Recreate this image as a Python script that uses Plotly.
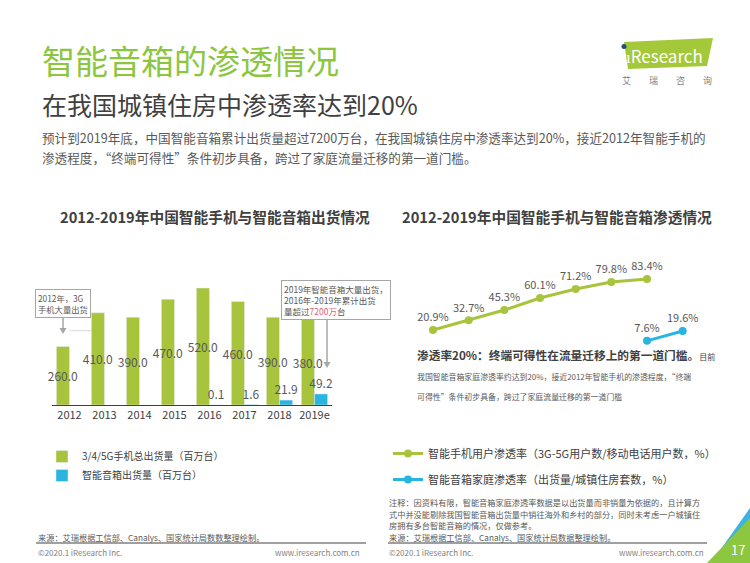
import plotly.graph_objects as go

# ---------------- data ----------------
years = ["2012", "2013", "2014", "2015", "2016", "2017", "2018", "2019e"]
phone_shipments = [260.0, 410.0, 390.0, 470.0, 520.0, 460.0, 390.0, 380.0]
speaker_shipments = [None, None, None, None, 0.1, 1.6, 21.9, 49.2]

phone_pen_years = ["2012", "2013", "2014", "2015", "2016", "2017", "2018"]
phone_penetration = [20.9, 32.7, 45.3, 60.1, 71.2, 79.8, 83.4]
speaker_pen_years = ["2018", "2019e"]
speaker_penetration = [7.6, 19.6]
threshold = 20

# ---------------- style ----------------
W, H = 750, 563
GREEN = "#A8C43C"
TITLE_GREEN = "#8CC63F"
BLUE = "#2AB4E0"
DARK = "#404040"
GRAY = "#595959"
LIGHT = "#7F7F7F"
ARROW = "#A6A6A6"
FONT = "Noto Sans CJK SC"


def X(px):
    return px / W


def Y(py):
    return 1 - py / H


fig = go.Figure()

fig.add_trace(go.Bar(
    x=years, y=phone_shipments, name="3/4/5G手机总出货量（百万台）",
    marker_color=GREEN, text=[f"{v:.1f}" for v in phone_shipments],
    textposition="inside", insidetextanchor="middle", textangle=0,
    constraintext="none", insidetextfont=dict(size=12, color=GRAY, family=FONT),
    cliponaxis=False, xaxis="x", yaxis="y", legend="legend", hoverinfo="skip",
))
fig.add_trace(go.Bar(
    x=years, y=speaker_shipments, name="智能音箱出货量（百万台）",
    marker_color=BLUE,
    text=["" if v is None else f"{v:.1f}" for v in speaker_shipments],
    textposition="outside", textangle=0, constraintext="none",
    outsidetextfont=dict(size=12, color=GRAY, family=FONT), cliponaxis=False,
    xaxis="x", yaxis="y", legend="legend", hoverinfo="skip",
))

fig.add_trace(go.Scatter(
    x=phone_pen_years, y=phone_penetration, mode="lines+markers+text",
    name="智能手机用户渗透率（3G-5G用户数/移动电话用户数，%）",
    line=dict(color=GREEN, width=3), marker=dict(color=GREEN, size=8),
    text=[f"{v}%" for v in phone_penetration], textposition="top center",
    textfont=dict(size=11, color=GRAY, family=FONT), cliponaxis=False,
    xaxis="x3", yaxis="y2", legend="legend2", legendgroup="a", hoverinfo="skip",
))
fig.add_trace(go.Scatter(
    x=speaker_pen_years, y=speaker_penetration, mode="lines+markers+text",
    name="智能音箱家庭渗透率（出货量/城镇住房套数，%）",
    line=dict(color=BLUE, width=3), marker=dict(color=BLUE, size=8),
    text=[f"{v}%" for v in speaker_penetration], textposition="top center",
    textfont=dict(size=11, color=GRAY, family=FONT), cliponaxis=False,
    xaxis="x3", yaxis="y2", legend="legend2", legendgroup="b", hoverinfo="skip",
))

annotations = []


def txt(text, x, y, size, color=GRAY, xanchor="left", **kw):
    annotations.append(dict(text=text, x=X(x), y=Y(y), xref="paper", yref="paper",
                            xanchor=xanchor, yanchor="middle", showarrow=False,
                            font=dict(size=size, color=color, family=FONT), **kw))


# header
txt("智能音箱的渗透情况", 40, 60, 33, TITLE_GREEN)
txt("在我国城镇住房中渗透率达到20%", 40, 104, 25, DARK)
txt("预计到2019年底，中国智能音箱累计出货量超过7200万台，在我国城镇住房中渗透率达到20%，接近2012年智能手机的", 40, 137, 12.6, GRAY)
txt("渗透程度，“终端可得性”条件初步具备，跨过了家庭流量迁移的第一道门槛。", 40, 158, 12.6, GRAY)

# logo
txt("ıResearch", 664, 55, 17, "white", xanchor="center")
txt("艾　　瑞　　咨　　询", 667, 80, 9, LIGHT, xanchor="center")

# chart titles
txt("<b>2012-2019年中国智能手机与智能音箱出货情况</b>", 215, 216, 14.7, DARK, xanchor="center")
txt("<b>2012-2019年中国智能手机与智能音箱渗透情况</b>", 557, 216, 14.7, DARK, xanchor="center")

# callout boxes
annotations.append(dict(text="2012年，3G<br>手机大量出货", x=X(35), y=Y(303), xref="paper", yref="paper",
                        xanchor="left", yanchor="middle", align="left", showarrow=False,
                        bordercolor=ARROW, borderwidth=1, borderpad=2, bgcolor="white",
                        font=dict(size=8.3, color=GRAY, family=FONT)))
annotations.append(dict(text="2019年智能音箱大量出货，<br>2016年-2019年累计出货<br>量超过<span style='color:#E0607A'>7200万</span>台",
                        x=X(281), y=Y(300), xref="paper", yref="paper",
                        xanchor="left", yanchor="middle", align="left", showarrow=False,
                        bordercolor=ARROW, borderwidth=1, borderpad=2, bgcolor="white",
                        font=dict(size=8.5, color=GRAY, family=FONT)))

# right chart commentary
txt("<b>渗透率20%：终端可得性在流量迁移上的第一道门槛。</b><span style='font-size:8px'>目前</span>", 415, 355, 11.7, DARK)
txt("我国智能音箱家庭渗透率约达到20%，接近2012年智能手机的渗透程度，“终端", 415, 376, 7.9, GRAY)
txt("可得性”条件初步具备，跨过了家庭流量迁移的第一道门槛", 415, 396, 7.9, GRAY)

# notes & footers
txt("注释：因资料有限，智能音箱家庭渗透率数据是以出货量而非销量为依据的，且计算方", 387, 502, 8.2, GRAY)
txt("式中并没能剔除我国智能音箱出货量中销往海外和乡村的部分，同时未考虑一户城镇住", 387, 513.5, 8.2, GRAY)
txt("房拥有多台智能音箱的情况，仅做参考。", 387, 525, 8.2, GRAY)
txt("来源：艾瑞根据工信部、Canalys、国家统计局数据整理绘制。", 387, 536.5, 8.2, GRAY)
txt("来源：艾瑞根据工信部、Canalys、国家统计局数数整理绘制。", 36, 536.5, 8.2, GRAY)
txt("©2020.1 iResearch Inc.", 36, 552, 8, LIGHT)
txt("www.iresearch.com.cn", 362, 552, 8, LIGHT, xanchor="right")
txt("©2020.1 iResearch Inc.", 387, 552, 8, LIGHT)
txt("www.iresearch.com.cn", 706, 552, 8, LIGHT, xanchor="right")
txt("17", 738, 549, 13, "white", xanchor="center")


def arrow(xp, y_top, y_tip):
    return [
        dict(type="line", xref="paper", yref="paper", x0=X(xp), x1=X(xp), y0=Y(y_top), y1=Y(y_tip - 5),
             line=dict(color=ARROW, width=1.5)),
        dict(type="path", xref="paper", yref="paper", fillcolor=ARROW, line_width=0,
             path=f"M {X(xp - 3.5)} {Y(y_tip - 6)} L {X(xp + 3.5)} {Y(y_tip - 6)} L {X(xp)} {Y(y_tip)} Z"),
    ]


shapes = [
    # logo background
    dict(type="path", path=f"M {X(624)} {Y(42)} L {X(713)} {Y(38)} L {X(707)} {Y(66)} L {X(628)} {Y(69)} Z",
         xref="paper", yref="paper", fillcolor="#A3C83A", line_width=0, layer="below"),
    dict(type="circle", xref="paper", yref="paper", x0=X(621.5), x1=X(626.5), y0=Y(44), y1=Y(49),
         fillcolor="#1F4E79", line_width=0),
    # footer rules
    dict(type="line", xref="paper", yref="paper", x0=X(36), x1=X(366), y0=Y(543), y1=Y(543),
         line=dict(color=DARK, width=1)),
    dict(type="line", xref="paper", yref="paper", x0=X(388), x1=X(707), y0=Y(543), y1=Y(543),
         line=dict(color=DARK, width=1)),
    # corner decoration
    dict(type="path", xref="paper", yref="paper", layer="below",
         path=f"M {X(716)} {Y(556)} L {X(750)} {Y(508)} L {X(750)} {Y(563)} L {X(716)} {Y(563)} Z",
         fillcolor="#3BB4E5", line_width=0),
    dict(type="path", xref="paper", yref="paper", layer="below",
         path=f"M {X(707)} {Y(563)} L {X(750)} {Y(518)} L {X(750)} {Y(563)} Z",
         fillcolor="#8DC63F", line_width=0),
    # 20% threshold line
    dict(type="line", xref="x2 domain", yref="y2", x0=0, x1=1, y0=threshold, y1=threshold,
         line=dict(color="#D9D9D9", width=1), layer="below"),
] + arrow(63, 316, 334) + arrow(327, 319, 368)

fig.update_layout(
    width=W, height=H, margin=dict(l=0, r=0, t=0, b=0),
    paper_bgcolor="white", plot_bgcolor="white",
    font=dict(family=FONT, color=GRAY),
    barmode="group", bargap=0.25, bargroupgap=0,
    xaxis=dict(domain=[X(52), X(332)], anchor="y", type="category", showline=True,
               linecolor=DARK, linewidth=1, ticks="", showgrid=False, zeroline=False,
               tickfont=dict(size=11, color=DARK, family=FONT)),
    yaxis=dict(domain=[Y(405), Y(279)], anchor="x", range=[0, 560], visible=False),
    xaxis2=dict(domain=[X(403), X(713)], anchor="y2", type="linear", range=[-1.712, 7.6],
                tickmode="array", tickvals=list(range(len(years))), ticktext=years,
                showline=True, linecolor=DARK, linewidth=1, ticks="", showgrid=False,
                zeroline=False, tickfont=dict(size=11, color=DARK, family=FONT)),
    xaxis3=dict(domain=[X(403), X(713)], anchor="y2", overlaying="x2", type="category",
                categoryorder="array", categoryarray=years, range=[-0.841, 7.85], visible=False),
    yaxis2=dict(domain=[Y(407), Y(270)], anchor="x2", range=[-73.5, 94.4], visible=False),
    legend=dict(x=X(42), y=Y(442), xanchor="left", yanchor="top", bgcolor="rgba(0,0,0,0)",
                font=dict(size=10, color=DARK, family=FONT), tracegroupgap=0),
    legend2=dict(x=X(388), y=Y(439), xanchor="left", yanchor="top", bgcolor="rgba(0,0,0,0)",
                 font=dict(size=11, color=DARK, family=FONT), tracegroupgap=7),
    annotations=annotations, shapes=shapes, showlegend=True,
)

fig.write_html("out.html", config={"displayModeBar": False},
               post_script="document.body.style.margin='0px';")
